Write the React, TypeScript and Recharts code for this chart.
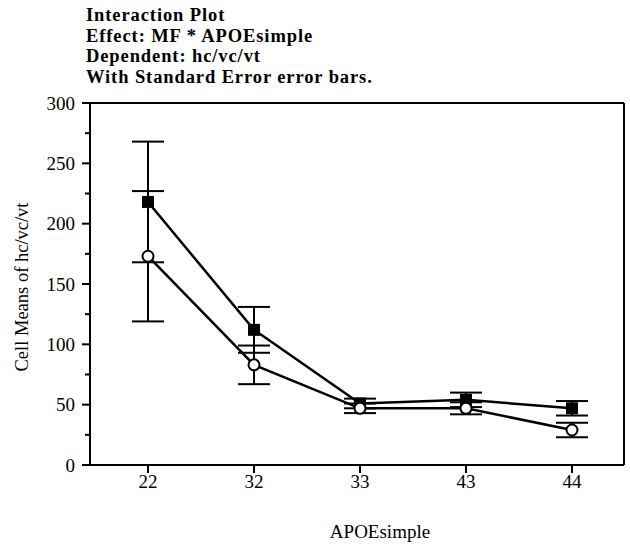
import { LineChart, Line, XAxis, YAxis, ErrorBar } from 'recharts';

const categories = ['22', '32', '33', '43', '44'];
const filledMeans = [218, 112, 51, 54, 47];
const filledSE = [50, 19, 4, 6, 6];
const openMeans = [173, 83, 47, 47, 29];
const openSE = [54, 16, 4, 5, 6];
const yTicks = [0, 25, 50, 75, 100, 125, 150, 175, 200, 225, 250, 275, 300];
const titleLines = [
  'Interaction Plot',
  'Effect: MF * APOEsimple',
  'Dependent: hc/vc/vt',
  'With Standard Error error bars.',
];

const data = categories.map((c, i) => ({
  cat: c,
  filled: filledMeans[i],
  filledErr: filledSE[i],
  open: openMeans[i],
  openErr: openSE[i],
}));

const FONT = '"Liberation Serif", "DejaVu Serif", serif';

function LeftTick(props: any) {
  const { x, y, payload } = props;
  const major = payload.value % 50 === 0;
  return (
    <g>
      <line x1={x - (major ? 8 : 5)} x2={x} y1={y} y2={y} stroke="#000" strokeWidth={2} />
      {major && (
        <text x={x - 15} y={y} dy={6.5} textAnchor="end" fontFamily={FONT} fontSize={19} fill="#000">
          {payload.value}
        </text>
      )}
    </g>
  );
}

function RightTick(props: any) {
  const { x, y } = props;
  return <line x1={x} x2={x + 6} y1={y} y2={y} stroke="#000" strokeWidth={2} />;
}

function Square(props: any) {
  const { cx, cy } = props;
  if (cx == null || cy == null) return null;
  return <rect x={cx - 6} y={cy - 6} width={12} height={12} fill="#000" />;
}

function Circle(props: any) {
  const { cx, cy } = props;
  if (cx == null || cy == null) return null;
  return <circle cx={cx} cy={cy} r={5.5} fill="#fff" stroke="#000" strokeWidth={2} />;
}

export default function App() {
  return (
    <div style={{ position: 'absolute', left: 0, top: 0, width: 630, height: 546, background: '#fff' }}>
      <div
        style={{
          position: 'absolute',
          left: 86,
          top: 5,
          fontFamily: FONT,
          fontWeight: 'bold',
          fontSize: 18.5,
          letterSpacing: 0.9,
          lineHeight: '20.5px',
          color: '#000',
          whiteSpace: 'nowrap',
        }}
      >
        {titleLines.map((t) => (
          <div key={t}>{t}</div>
        ))}
      </div>
      <LineChart width={630} height={546} data={data} margin={{ top: 102, right: 5, bottom: 80, left: 89 }}>
        <XAxis
          dataKey="cat"
          xAxisId="bottom"
          height={1}
          padding={{ left: 58, right: 52 }}
          axisLine={{ stroke: '#000', strokeWidth: 2 }}
          tickLine={{ stroke: '#000', strokeWidth: 2 }}
          tickSize={8}
          tickMargin={2}
          tick={{ fontFamily: FONT, fontSize: 19, fill: '#000' }}
        />
        <XAxis
          dataKey="cat"
          xAxisId="top"
          orientation="top"
          height={1}
          padding={{ left: 58, right: 52 }}
          axisLine={{ stroke: '#000', strokeWidth: 2 }}
          tickLine={{ stroke: '#000', strokeWidth: 2 }}
          tickSize={7}
          tick={false}
        />
        <YAxis
          yAxisId="left"
          width={1}
          domain={[0, 300]}
          ticks={yTicks}
          interval={0}
          axisLine={{ stroke: '#000', strokeWidth: 2 }}
          tickLine={false}
          tickSize={0}
          tickMargin={0}
          tick={<LeftTick />}
        />
        <YAxis
          yAxisId="right"
          orientation="right"
          width={1}
          domain={[0, 300]}
          ticks={yTicks}
          interval={0}
          axisLine={{ stroke: '#000', strokeWidth: 2 }}
          tickLine={false}
          tickSize={0}
          tickMargin={0}
          tick={<RightTick />}
        />
        <Line
          xAxisId="bottom"
          yAxisId="left"
          dataKey="filled"
          stroke="#000"
          strokeWidth={2.5}
          dot={<Square />}
          isAnimationActive={false}
        >
          <ErrorBar dataKey="filledErr" direction="y" width={16} stroke="#000" strokeWidth={2} />
        </Line>
        <Line
          xAxisId="bottom"
          yAxisId="left"
          dataKey="open"
          stroke="#000"
          strokeWidth={2.5}
          dot={<Circle />}
          isAnimationActive={false}
        >
          <ErrorBar dataKey="openErr" direction="y" width={16} stroke="#000" strokeWidth={2} />
        </Line>
      </LineChart>
      <div
        style={{
          position: 'absolute',
          left: 22,
          top: 287,
          transform: 'translate(-50%, -50%) rotate(-90deg)',
          whiteSpace: 'nowrap',
          fontFamily: FONT,
          fontSize: 18.5,
          color: '#000',
        }}
      >
        Cell Means of hc/vc/vt
      </div>
      <div
        style={{
          position: 'absolute',
          left: 380,
          top: 521,
          transform: 'translateX(-50%)',
          whiteSpace: 'nowrap',
          fontFamily: FONT,
          fontSize: 19,
          color: '#000',
        }}
      >
        APOEsimple
      </div>
    </div>
  );
}
